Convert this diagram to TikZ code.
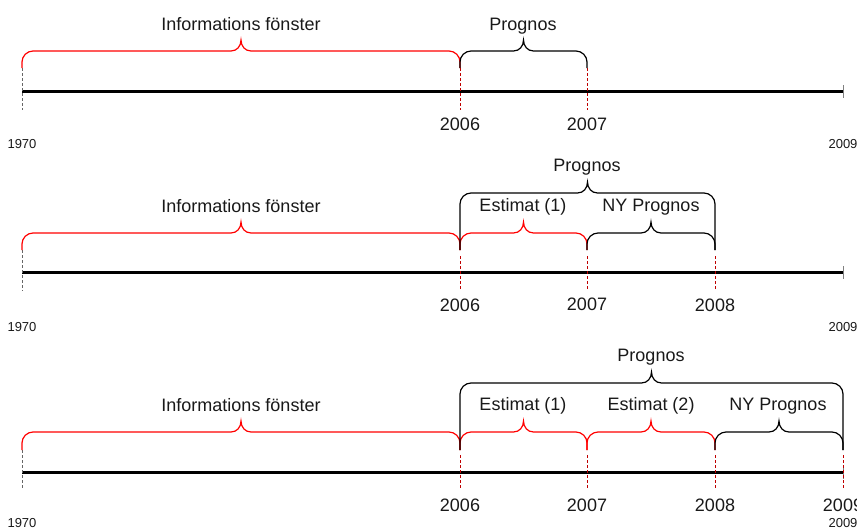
\documentclass[tikz,border=0pt]{standalone}
\usepackage{fontspec}
\setmainfont{Liberation Sans}

% curly brace over a time span: style, x0, x1, y of the feet, y of the bar, y of the tip
\newcommand\spanbrace[6]{%
  \pgfmathsetmacro\bm{(#2+#3)/2}%
  \draw[#1] (#2,#4) -- (#2,#5+11) .. controls (#2,#5+5) and (#2+5,#5) .. (#2+11,#5)
    -- (\bm-10,#5) .. controls (\bm-4,#5) and (\bm,#5-5) .. (\bm,#6)
    .. controls (\bm,#5-5) and (\bm+4,#5) .. (\bm+10,#5)
    -- (#3-11,#5) .. controls (#3-5,#5) and (#3,#5+5) .. (#3,#5+11) -- (#3,#4);
}

\tikzset{
  axisline/.style={line width=2.25pt, black},
  redbrace/.style={draw=red, line width=0.9pt},
  blackbrace/.style={draw=black, line width=0.9pt},
  yeartick/.style={draw=red!75!black, line width=0.75pt, dash pattern=on 2.25pt off 1.5pt},
  starttick/.style={draw=black!60, line width=0.75pt, dash pattern=on 2.25pt off 1.5pt},
  endtick/.style={draw=gray, line width=0.75pt},
  lbl/.style={font=\fontsize{13.5}{16}\selectfont, anchor=base, inner sep=0pt, text=black!90},
  smalllbl/.style={font=\fontsize{9.75}{12}\selectfont, anchor=base, inner sep=0pt, text=black!90},
}

\begin{document}
\begin{tikzpicture}[x=0.75pt, y=-0.75pt]
\useasboundingbox (0,0) rectangle (857,529);

% ---------- timeline 1 ----------
\draw[axisline] (22,91) -- (843,91);
\draw[starttick] (22,68) -- (22,110);
\draw[endtick] (843,85) -- (843,98);
\foreach \x in {460,587} \draw[yeartick] (\x,68) -- (\x,110);
\spanbrace{redbrace}{22}{460}{68}{51}{40}
\spanbrace{blackbrace}{460}{587}{68}{51}{40}
\node[lbl] (info1) at (241,30) {Informations fönster};
\node[lbl] (prog1) at (523,30) {Prognos};
\node[lbl] (y1a) at (460,130) {2006};
\node[lbl] (y1b) at (587,130) {2007};
\node[smalllbl] (s1a) at (22,148) {1970};
\node[smalllbl] (s1b) at (843,148) {2009};

% ---------- timeline 2 ----------
\draw[axisline] (22,272) -- (843,272);
\draw[starttick] (22,250) -- (22,291);
\draw[endtick] (843,266) -- (843,279);
\foreach \x in {460,587,715} \draw[yeartick] (\x,256) -- (\x,291);
\spanbrace{redbrace}{22}{460}{250}{233}{222}
\spanbrace{redbrace}{460}{587}{250}{233}{222}
\spanbrace{blackbrace}{587}{715}{250}{233}{222}
\spanbrace{blackbrace}{460}{715}{250}{193}{182}
\node[lbl] (info2) at (241,212) {Informations fönster};
\node[lbl] (est2a) at (523,211) {Estimat (1)};
\node[lbl] (ny2) at (651,211) {NY Prognos};
\node[lbl] (prog2) at (587,171) {Prognos};
\node[lbl] (y2a) at (460,311) {2006};
\node[lbl] (y2b) at (587,310) {2007};
\node[lbl] (y2c) at (715,311) {2008};
\node[smalllbl] (s2a) at (22,331) {1970};
\node[smalllbl] (s2b) at (843,331) {2009};

% ---------- timeline 3 ----------
\draw[axisline] (22,472) -- (843,472);
\draw[starttick] (22,450) -- (22,490);
\draw[endtick] (843,466) -- (843,479);
\foreach \x in {460,587,715,843} \draw[yeartick] (\x,455) -- (\x,490);
\spanbrace{redbrace}{22}{460}{450}{432}{421}
\spanbrace{redbrace}{460}{587}{450}{432}{421}
\spanbrace{redbrace}{587}{715}{450}{432}{421}
\spanbrace{blackbrace}{715}{843}{450}{432}{421}
\spanbrace{blackbrace}{460}{843}{450}{383}{372}
\node[lbl] (info3) at (241,411) {Informations fönster};
\node[lbl] (est3a) at (523,410) {Estimat (1)};
\node[lbl] (est3b) at (651,410) {Estimat (2)};
\node[lbl] (ny3) at (778,410) {NY Prognos};
\node[lbl] (prog3) at (651,361) {Prognos};
\node[lbl] (y3a) at (460,511) {2006};
\node[lbl] (y3b) at (587,511) {2007};
\node[lbl] (y3c) at (715,511) {2008};
\node[lbl] (y3d) at (843,511) {2009};
\node[smalllbl] (s3a) at (22,527) {1970};
\node[smalllbl] (s3b) at (843,527) {2009};
\end{tikzpicture}
\end{document}
